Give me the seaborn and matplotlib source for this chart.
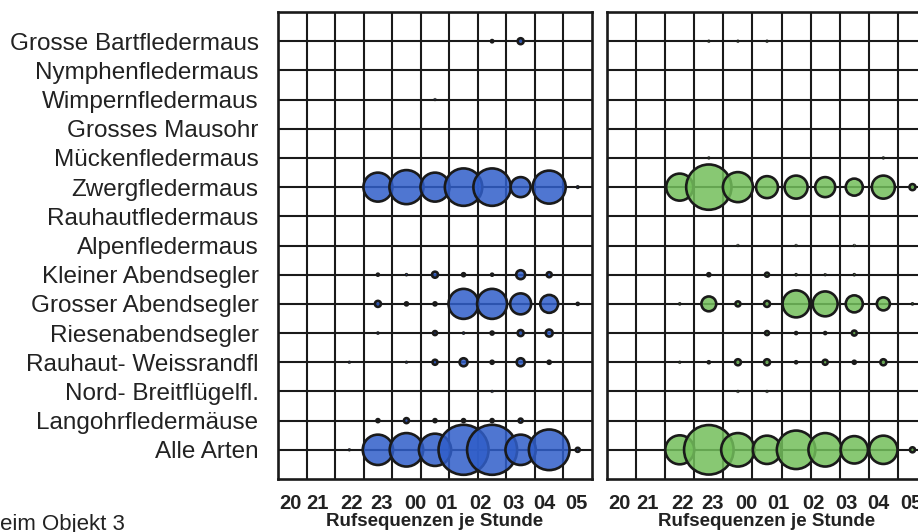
import numpy as np
import pandas as pd
import matplotlib
matplotlib.use('Agg')
import matplotlib.pyplot as plt
import seaborn as sns

sns.set_style('white')
plt.rcParams['font.family'] = ['Liberation Sans', 'DejaVu Sans']

species = [
    'Grosse Bartfledermaus', 'Nymphenfledermaus', 'Wimpernfledermaus',
    'Grosses Mausohr', 'Mückenfledermaus', 'Zwergfledermaus',
    'Rauhautfledermaus', 'Alpenfledermaus', 'Kleiner Abendsegler',
    'Grosser Abendsegler', 'Riesenabendsegler', 'Rauhaut- Weissrandfl',
    'Nord- Breitflügelfl.', 'Langohrfledermäuse', 'Alle Arten',
]
hours = ['20', '21', '22', '23', '00', '01', '02', '03', '04', '05', '06']
hour_labels = ['20', '21', '22', '23', '00', '01', '02', '03', '04', '05']

# call sequences per hour
blue_counts = [
    # 20  21  22    23    00    01    02    03    04    05    06
    [0, 0, 0,    0,    0,    0,    0,    0.5,  3.5,  0,    0],
    [0, 0, 0,    0,    0,    0,    0,    0,    0,    0,    0],
    [0, 0, 0,    0,    0,    0.05, 0,    0,    0,    0,    0],
    [0, 0, 0,    0,    0,    0,    0,    0,    0,    0,    0],
    [0, 0, 0,    0,    0,    0,    0,    0,    0,    0,    0],
    [0, 0, 0,    84,   116,  84,   140,  140,  40,   109,  0.2],
    [0, 0, 0,    0,    0,    0,    0,    0,    0,    0,    0],
    [0, 0, 0,    0,    0,    0,    0,    0,    0,    0,    0],
    [0, 0, 0,    0.4,  0.1,  3.6,  0.9,  0.4,  8,    2.5,  0],
    [0, 0, 0,    3.6,  0.9,  0.9,  90,   90,   44,   32,   0.4],
    [0, 0, 0,    0.1,  0,    1.6,  0.1,  0.9,  3.6,  4.9,  0],
    [0, 0, 0.05, 0,    0.05, 2.5,  6.4,  0.9,  6.4,  0.9,  0],
    [0, 0, 0,    0,    0,    0,    0,    0.05, 0,    0,    0],
    [0, 0, 0,    0.9,  2.5,  0.9,  0.9,  0.9,  1.6,  0,    0],
    [0, 0, 0.05, 92,   112,  104,  262,  262,  92,   165,  1.6],
]

green_counts = [
    # 20  21  22    23    00    01    02    03    04    05    06
    [0, 0, 0,    0.05, 0.05, 0.05, 0,    0,    0,    0,    0],
    [0, 0, 0,    0,    0,    0,    0,    0,    0,    0,    0],
    [0, 0, 0,    0,    0,    0,    0,    0,    0,    0,    0],
    [0, 0, 0,    0,    0,    0,    0,    0,    0,    0,    0],
    [0, 0, 0,    0.05, 0,    0,    0,    0,    0,    0.05, 0],
    [0, 0, 73,   205,  90,   48,   53,   40,   29,   53,   3.6],
    [0, 0, 0,    0,    0,    0,    0,    0,    0,    0,    0],
    [0, 0, 0,    0,    0.05, 0,    0.05, 0,    0.05, 0,    0],
    [0, 0, 0,    0.9,  0,    1.6,  0.1,  0.05, 0.1,  0,    0],
    [0, 0, 0.1,  22,   2.5,  3.6,  73,   62,   29,   17,   0.1],
    [0, 0, 0,    0,    0,    1.6,  0.4,  0.4,  2.5,  0,    0],
    [0, 0, 0.05, 0.4,  3.6,  3.6,  0.4,  2.5,  0.9,  3.6,  0],
    [0, 0, 0,    0,    0.05, 0.05, 0,    0,    0,    0,    0],
    [0, 0, 0,    0,    0,    0,    0,    0,    0,    0,    0],
    [0, 0, 84,   245,  112,  80,   148,  112,  75,   80,   2.5],
]


def to_long(counts):
    rows = []
    for i, name in enumerate(species):
        for j, h in enumerate(hours):
            if counts[i][j] > 0:
                rows.append({'species': name, 'hour': h, 'row': i + 1,
                             'col': j + 1, 'count': counts[i][j]})
    return pd.DataFrame(rows)


W, H = 918, 532
fig = plt.figure(figsize=(W / 100, H / 100), dpi=100)
ax1 = fig.add_axes([278 / W, 53 / H, 314 / W, 467 / H])
ax2 = fig.add_axes([607 / W, 53 / H, 320 / W, 467 / H])

tick_pos = [0.93, 1.88, 3.08, 4.14, 5.3, 6.4, 7.58, 8.74, 9.83, 10.97]
line_col = '#1a1a1a'
max_count = 250
size_max = 5.184 * max_count

for ax, counts, face in [(ax1, blue_counts, (0.19, 0.37, 0.79, 0.85)),
                         (ax2, green_counts, (0.45, 0.75, 0.355, 0.85))]:
    df = to_long(counts)
    sns.scatterplot(data=df, x='col', y='row', size='count',
                    sizes=(0, size_max), size_norm=(0, max_count),
                    color=face, edgecolor=line_col, linewidth=1.9,
                    legend=False, ax=ax, zorder=3)
    ax.set_xlim(0.5, 11.5)
    ax.set_ylim(16, 0)
    ax.set_xticks(np.arange(1.5, 11, 1), minor=True)
    ax.set_yticks(range(1, 16))
    ax.set_axisbelow(True)
    ax.grid(which='minor', axis='x', color=line_col, linewidth=1.5)
    ax.grid(which='major', axis='y', color=line_col, linewidth=1.5)
    ax.grid(which='major', axis='x', visible=False)
    ax.set_xticks(tick_pos)
    ax.set_xticklabels(hour_labels, fontsize=14.5, fontweight='bold',
                       color='#222222')
    ax.tick_params(which='both', length=0)
    ax.tick_params(axis='x', pad=11)
    ax.set_xlabel('Rufsequenzen je Stunde', fontsize=13.5, fontweight='bold',
                  color='#222222', labelpad=0)
    ax.set_ylabel('')
    for sp in ax.spines.values():
        sp.set_color(line_col)
        sp.set_linewidth(1.9)

ax1.set_yticklabels(species, fontsize=17.5, color='#222222')
ax1.tick_params(axis='y', pad=14)
ax2.set_yticklabels([])

fig.text(0.0, 0.004, 'eim Objekt 3', fontsize=16, color='#222222',
         ha='left', va='baseline')

fig.savefig('out.png', dpi=100)
